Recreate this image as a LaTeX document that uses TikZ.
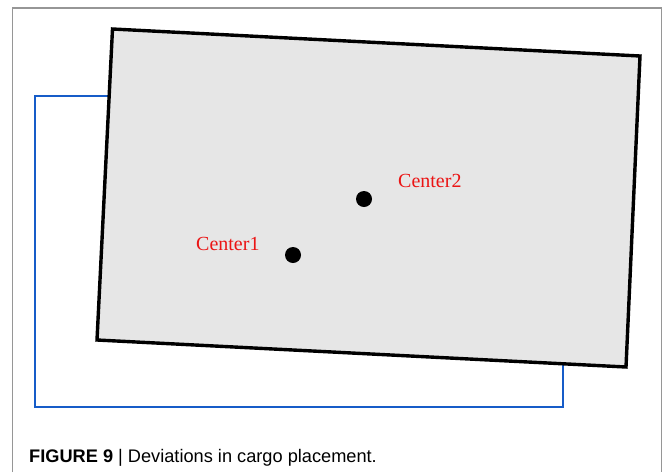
\documentclass[tikz,border=0pt]{standalone}
\usepackage{fontspec}
\setmainfont{Liberation Serif}
\newfontfamily\capfont{Liberation Sans}
\definecolor{framegray}{RGB}{150,150,150}
\definecolor{boxblue}{RGB}{22,92,200}
\definecolor{boxfill}{RGB}{230,230,230}
\definecolor{labelred}{RGB}{235,20,20}
\tikzset{
  frameline/.style={draw=framegray, line width=1.2pt},
  bluebox/.style={draw=boxblue, line width=2.8pt},
  cargobox/.style={draw=black, fill=boxfill, line width=3.4pt, line join=miter},
  centerdot/.style={circle, fill=black, inner sep=0pt, minimum size=16pt},
  centerlabel/.style={text=labelred, font=\fontsize{20}{22}\selectfont, inner sep=0pt, anchor=west},
  captiontext/.style={font=\capfont\fontsize{18.2}{20}\selectfont, inner sep=0pt, anchor=base west}
}
\begin{document}
\begin{tikzpicture}[x=1pt,y=-1pt]
\useasboundingbox (0,0) rectangle (663,472);
\fill[white] (0,0) rectangle (663,472);
% outer frame
\draw[frameline] (12.5,472) -- (12.5,8) -- (661.5,8) -- (661.5,472);
% blue original placement
\draw[bluebox] (35,96) rectangle (563,407);
% rotated cargo
\draw[cargobox] (112.5,29) -- (640,56) -- (626,367) -- (97,340) -- cycle;
% centers
\node[centerdot] (c1) at (293,255) {};
\node[centerdot] (c2) at (364,199) {};
\node[centerlabel] (l1) at (196,244) {Center1};
\node[centerlabel] (l2) at (398,181) {Center2};
% caption
\node[captiontext] (cap) at (29,462) {\textbf{FIGURE 9} | Deviations in cargo placement.};
\end{tikzpicture}
\end{document}
